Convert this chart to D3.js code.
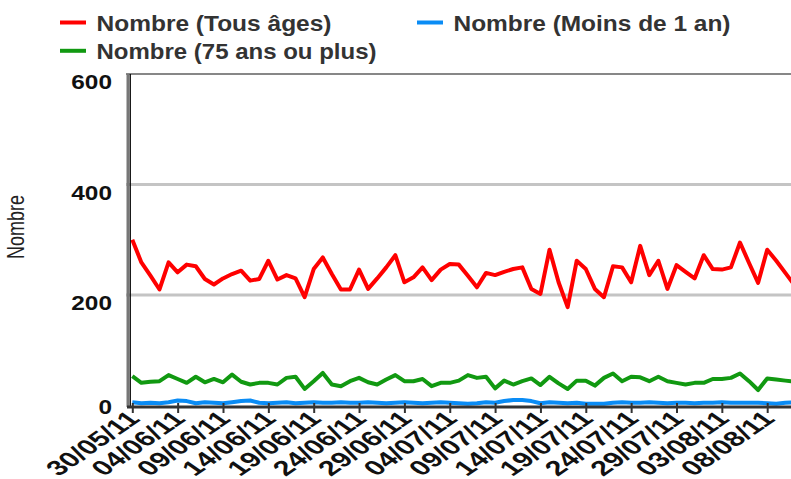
<!DOCTYPE html>
<html>
<head>
<meta charset="utf-8">
<script src="https://cdn.jsdelivr.net/npm/d3@7"></script>
<style>
  body { margin: 0; background: #fff; }
  svg { display: block; font-family: "Liberation Sans", Arial, sans-serif; }
</style>
</head>
<body>
<svg id="chart" width="791" height="479"></svg>
<script>
// Data: daily counts from 30/05/11
const startDate = new Date(2011, 4, 30);
const tousAges = [300,259,235,210,259,241,255,252,229,219, 230,238,244,226,229,262,228,236,230,196,
  247,268,238,210,210,246,211,230,250,272, 223,232,250,227,246,256,255,235,214,240,
  236,242,247,250,211,202,282,223,178,262, 247,211,196,252,250,223,289,236,262,211,
  254,242,230,272,247,246,250,295,258,222, 282,262,240,218];
const plus75 = [53,41,43,44,55,48,41,52,42,48, 42,56,43,38,41,41,38,50,52,30,
  44,59,38,35,44,50,42,38,47,55, 44,44,48,35,41,41,45,55,50,52,
  31,45,38,44,49,37,52,40,30,45, 45,36,50,58,44,52,51,44,52,44,
  41,38,41,41,48,48,50,58,44,28, 49,47,45,43];
const moins1 = [6,4,5,4,6,9,8,4,6,5, 4,6,8,9,5,4,5,6,4,5,
  6,5,5,6,5,5,6,5,4,5, 6,5,4,5,6,5,4,3,4,6,
  5,8,10,10,8,4,6,5,4,5, 3,3,3,5,6,5,5,6,5,4,
  5,5,4,5,5,6,5,5,5,5, 4,3,5,6];
const yTicks = [0, 200, 400, 600];

const dates = tousAges.map((_, i) => d3.timeDay.offset(startDate, i));
const xTickDates = dates.filter((_, i) => i % 5 === 0);

const series = [
  { name: "Nombre (Tous âges)", values: tousAges, color: "#ff0000" },
  { name: "Nombre (75 ans ou plus)", values: plus75, color: "#119911" },
  { name: "Nombre (Moins de 1 an)", values: moins1, color: "#0a8cf5" }
];

const svg = d3.select("#chart");
const TEXT = "#333";

const x = d3.scaleTime()
  .domain([dates[0], dates[dates.length - 1]])
  .range([132.3, 794.4]);
const y = d3.scaleLinear().domain([0, 600]).range([405.5, 74]);

// gridlines
svg.append("g")
  .selectAll("line")
  .data(yTicks.filter(t => t > 0))
  .join("line")
  .attr("x1", 126).attr("x2", 791)
  .attr("y1", d => y(d)).attr("y2", d => y(d))
  .attr("stroke", d => d === 600 ? "#111" : "#c4c4c4")
  .attr("stroke-width", d => d === 600 ? 1.2 : 3);

// lines
const line = d3.line()
  .x((d, i) => x(dates[i]))
  .y(d => y(d));

series.forEach(s => {
  svg.append("path")
    .attr("d", line(s.values))
    .attr("fill", "none")
    .attr("stroke", s.color)
    .attr("stroke-width", 4)
    .attr("stroke-linejoin", "round");
});

// y axis line
svg.append("line")
  .attr("x1", 128).attr("x2", 128).attr("y1", 74).attr("y2", 407)
  .attr("stroke", "#777").attr("stroke-width", 3);
svg.append("line")
  .attr("x1", 130.3).attr("x2", 130.3).attr("y1", 74).attr("y2", 407)
  .attr("stroke", "#000").attr("stroke-width", 1.2);

// x axis
const xAxis = d3.axisBottom(x)
  .tickValues(xTickDates)
  .tickSize(6)
  .tickFormat(d3.timeFormat("%d/%m/%y"));

const gx = svg.append("g")
  .attr("transform", `translate(0,${y(0) + 1.5})`)
  .call(xAxis);
gx.select(".domain").remove();
gx.selectAll(".tick line")
  .attr("y1", -4)
  .attr("stroke", "#333")
  .attr("stroke-width", 2);
gx.selectAll(".tick text").remove();
svg.append("line")
  .attr("x1", 127).attr("x2", 791).attr("y1", y(0) + 1.5).attr("y2", y(0) + 1.5)
  .attr("stroke", "#333").attr("stroke-width", 3);

// x tick labels (stretched like the original)
svg.append("g")
  .selectAll("text")
  .data(xTickDates)
  .join("text")
  .attr("transform", d => `translate(${x(d) + 9},420) scale(1.45,1) rotate(-45)`)
  .attr("text-anchor", "end")
  .attr("font-size", 21)
  .attr("font-weight", "bold")
  .attr("fill", "#111")
  .text(d3.timeFormat("%d/%m/%y"));

// y tick labels
svg.append("g")
  .selectAll("text")
  .data(yTicks)
  .join("text")
  .attr("transform", d => `translate(112,${Math.min(y(d) + 15, y(0) + 8)}) scale(1.22,1)`)
  .attr("text-anchor", "end")
  .attr("font-size", 20)
  .attr("font-weight", "bold")
  .attr("fill", "#111")
  .text(d => d);

// y title
svg.append("text")
  .attr("transform", "translate(24,227) scale(1.35,1) rotate(-90)")
  .attr("text-anchor", "middle")
  .attr("font-size", 18)
  .attr("fill", "#222")
  .text("Nombre");

// legend
const legendItems = [
  { s: series[0], lx: 60, ty: 31, len: 235 },
  { s: series[2], lx: 417, ty: 31, len: 277 },
  { s: series[1], lx: 60, ty: 59.3, len: 280 }
];
const lg = svg.append("g").selectAll("g").data(legendItems).join("g");
lg.append("line")
  .attr("x1", d => d.lx).attr("x2", d => d.lx + 26)
  .attr("y1", d => d.ty - 8.5).attr("y2", d => d.ty - 8.5)
  .attr("stroke", d => d.s.color)
  .attr("stroke-width", 4);
lg.append("text")
  .attr("x", d => d.lx + 36.5)
  .attr("y", d => d.ty)
  .attr("font-size", 22)
  .attr("font-weight", "bold")
  .attr("fill", TEXT)
  .attr("textLength", d => d.len)
  .attr("lengthAdjust", "spacingAndGlyphs")
  .text(d => d.s.name);
</script>
</body>
</html>
